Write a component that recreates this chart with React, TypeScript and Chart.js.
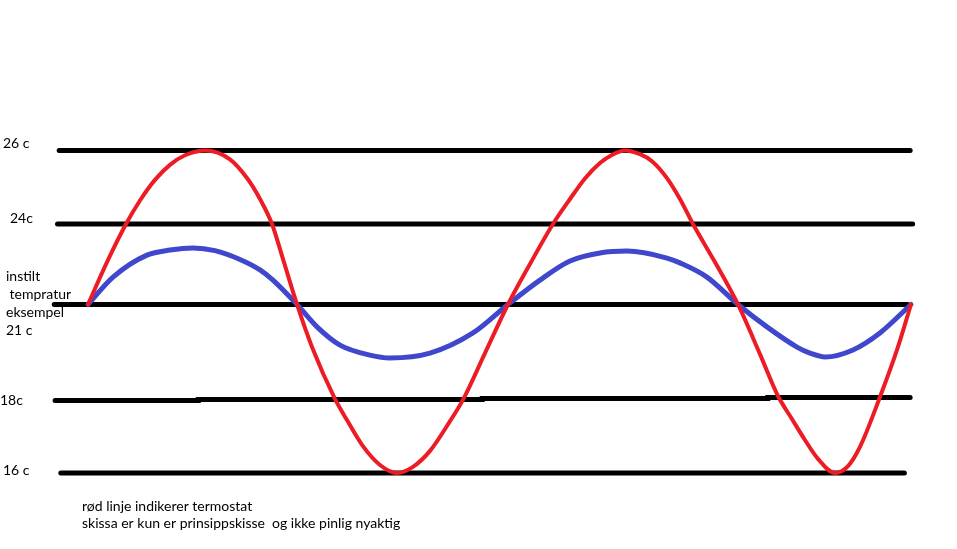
import React, { useEffect, useRef } from 'react';
import { Chart, registerables, LinearScale } from 'chart.js';

// ---- data (time in % of the sketched period, temperature in °C) ----
const LEVELS = [16, 18, 21, 24, 26];
// relative heights at which the sketch draws each temperature level (sketch is not to scale)
const LEVEL_FRACTIONS = [0, 0.2248, 0.5225, 0.7721, 1];

const redTime = [0, 2.31, 4.62, 6.32, 8.14, 9.96, 11.79, 14.22, 17.25, 19.32, 20.9, 22.36, 23.69, 25.4, 27.22, 30.01, 31.47, 33.41, 35.48, 37.55, 39.49, 41.56, 43.99, 45.56, 48.24, 51.03, 53.71, 56.5, 58.57, 60.39, 62.21, 63.67, 65.25, 67.07, 68.53, 70.35, 71.93, 73.51, 76.18, 78.98, 81.65, 83.84, 85.54, 87.12, 88.7, 90.77, 92.35, 93.8, 96.23, 98.3, 100];
const redTemp = [21, 22.58, 24.0, 24.64, 25.2, 25.61, 25.87, 26, 25.76, 25.25, 24.68, 24.0, 22.7, 21.0, 19.67, 18.05, 17.46, 16.74, 16.22, 16, 16.17, 16.61, 17.43, 18.02, 19.48, 21.0, 22.51, 24.0, 24.68, 25.24, 25.66, 25.88, 26, 25.9, 25.71, 25.25, 24.68, 24.0, 22.58, 21.0, 19.45, 18.14, 17.49, 16.91, 16.39, 16, 16.19, 16.72, 18.11, 19.58, 21];

const blueTime = [0, 3.04, 7.17, 9.96, 12.76, 15.43, 18.47, 20.9, 22.48, 25.4, 27.83, 30.62, 34.26, 36.7, 41.56, 46.78, 51.03, 54.92, 58.57, 62.21, 65.49, 70.35, 71.93, 75.21, 78.98, 82.5, 86.15, 87.73, 89.55, 92.95, 96.23, 100];
const blueTemp = [21, 22.02, 22.84, 23.03, 23.11, 23.01, 22.68, 22.29, 21.91, 21.0, 20.3, 19.73, 19.42, 19.33, 19.48, 20.11, 21.0, 21.91, 22.62, 22.92, 22.99, 22.73, 22.55, 22.02, 21.0, 20.3, 19.67, 19.48, 19.36, 19.58, 20.11, 21];

// horizontal reference lines: [start, end] in time units
const line26 = [-3.5, 99.9];
const line24 = [-3.7, 100.2];
const line21 = [-4.1, 99.6];
const line16 = [-3.3, 99.2];
// the 18 c line is drawn by hand in slightly rising pieces
const line18Time = [-4.0, 13.4, 47.9, 82.6, 99.9];
const line18Temp = [18, 18.03, 18.06, 18.09, 18.09];

const axisLabels = [['26 c'], ['24c'], ['instilt', ' tempratur', 'eksempel', '21 c'], ['18c'], ['16 c']];
const axisLabelLevels = [26, 24, 21, 18, 16];
const captionLines = ['rød linje indikerer termostat', 'skissa er kun er prinsippskisse  og ikke pinlig nyaktig'];

// ---- layout for the texts (pixels) ----
const LABEL_X = [3, 10, 6, 0, 3];
const LABEL_DY = [-7.5, -6, -27.8, -0.5, -2.3];
const LABEL_LINE_H = 18;
const CAPTION_X = 82;
const CAPTION_DY = [33.7, 50.3];
const FONT = '14px Lato';

function levelFraction(v: number): number {
  if (v <= LEVELS[0]) {
    const s = (LEVEL_FRACTIONS[1] - LEVEL_FRACTIONS[0]) / (LEVELS[1] - LEVELS[0]);
    return LEVEL_FRACTIONS[0] + (v - LEVELS[0]) * s;
  }
  for (let i = 1; i < LEVELS.length; i++) {
    if (v <= LEVELS[i] || i === LEVELS.length - 1) {
      const s = (LEVEL_FRACTIONS[i] - LEVEL_FRACTIONS[i - 1]) / (LEVELS[i] - LEVELS[i - 1]);
      return LEVEL_FRACTIONS[i - 1] + (v - LEVELS[i - 1]) * s;
    }
  }
  return 1;
}

function fractionLevel(f: number): number {
  for (let i = 1; i < LEVELS.length; i++) {
    if (f <= LEVEL_FRACTIONS[i] || i === LEVELS.length - 1) {
      const s = (LEVELS[i] - LEVELS[i - 1]) / (LEVEL_FRACTIONS[i] - LEVEL_FRACTIONS[i - 1]);
      return LEVELS[i - 1] + (f - LEVEL_FRACTIONS[i - 1]) * s;
    }
  }
  return LEVELS[LEVELS.length - 1];
}

class SketchScale extends LinearScale {
  static id = 'sketch';
  getPixelForValue(value: number) {
    return (this as any).getPixelForDecimal(levelFraction(value));
  }
  getValueForPixel(pixel: number) {
    return fractionLevel((this as any).getDecimalForPixel(pixel));
  }
}

Chart.register(...registerables, SketchScale as any);

const zip = (xs: number[], ys: number[]) => xs.map((x, i) => ({ x, y: ys[i] }));
const flat = (range: number[], level: number) => range.map((x) => ({ x, y: level }));

const labelPlugin = {
  id: 'sketchLabels',
  afterDatasetsDraw(chart: any) {
    const ctx = chart.ctx;
    const y = chart.scales.y;
    ctx.save();
    ctx.fillStyle = '#000';
    ctx.font = FONT;
    ctx.textBaseline = 'middle';
    ctx.textAlign = 'left';
    axisLabels.forEach((lines, i) => {
      const base = y.getPixelForValue(axisLabelLevels[i]) + LABEL_DY[i];
      lines.forEach((ln, j) => ctx.fillText(ln, LABEL_X[i], base + j * LABEL_LINE_H));
    });
    const cb = y.getPixelForValue(16);
    captionLines.forEach((ln, j) => ctx.fillText(ln, CAPTION_X, cb + CAPTION_DY[j]));
    ctx.restore();
  },
};

export default function App() {
  const ref = useRef<HTMLCanvasElement | null>(null);
  useEffect(() => {
    if (!ref.current) return;
    const black = {
      borderColor: '#000000',
      borderWidth: 5,
      borderCapStyle: 'round' as const,
      pointRadius: 0,
      fill: false,
      clip: false as any,
      order: 3,
    };
    const curve = {
      borderCapStyle: 'round' as const,
      borderJoinStyle: 'round' as const,
      cubicInterpolationMode: 'monotone' as const,
      pointRadius: 0,
      fill: false,
      clip: false as any,
    };
    const chart = new Chart(ref.current, {
      type: 'line',
      data: {
        datasets: [
          { ...black, label: '26 c', data: flat(line26, 26) },
          { ...black, label: '24c', data: flat(line24, 24) },
          { ...black, label: '21 c', data: flat(line21, 21) },
          { ...black, label: '18c', data: zip(line18Time, line18Temp), stepped: 'before' as any },
          { ...black, label: '16 c', data: flat(line16, 16) },
          { ...curve, label: 'rom', data: zip(blueTime, blueTemp), borderColor: '#3f48cc', borderWidth: 5, order: 2 },
          { ...curve, label: 'termostat', data: zip(redTime, redTemp), borderColor: '#ed1c24', borderWidth: 4, order: 1 },
        ],
      },
      options: {
        responsive: false,
        animation: false,
        events: [],
        layout: { padding: { left: 38.6, right: 13.1, top: 150.5, bottom: 76 } },
        plugins: { legend: { display: false }, tooltip: { enabled: false }, title: { display: false } },
        scales: {
          x: { type: 'linear', min: -6, max: 104, display: false },
          y: { type: 'sketch' as any, min: 16, max: 26, display: false },
        },
      },
      plugins: [labelPlugin],
    });
    return () => chart.destroy();
  }, []);
  return (
    <div style={{ position: 'absolute', left: 0, top: 0, width: 957, height: 549, background: '#fff' }}>
      <canvas ref={ref} width={957} height={549} style={{ display: 'block' }} />
    </div>
  );
}
